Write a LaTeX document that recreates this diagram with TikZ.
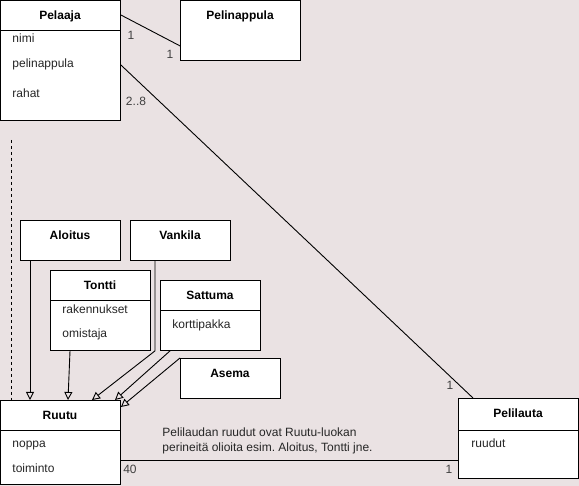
\documentclass[tikz,border=0pt]{standalone}
\usepackage{fontspec}
\setmainfont{Liberation Sans}
\usetikzlibrary{arrows.meta}
\definecolor{canvas}{RGB}{234,226,227}
\frenchspacing

\begin{document}
\begin{tikzpicture}[x=1pt, y=-1pt, line width=0.9pt,
  every node/.style={font=\fontsize{12}{15}\selectfont, inner sep=0pt},
  classbox/.style={draw, fill=white, anchor=north west},
  title/.style={font=\fontsize{12}{15}\selectfont\bfseries, anchor=base},
  attr/.style={anchor=base west, text=black!85},
  mult/.style={text=black!75},
  inherit/.style={-{Triangle[open, length=8pt, width=8pt]}}]
\fill[canvas] (0,0) rectangle (579,486);
\useasboundingbox (0,0) rectangle (579,486);
% Player and piece
\node[classbox, minimum width=120pt, minimum height=120pt] (pelaaja) at (0,0) {};
\draw ([yshift=-30pt]pelaaja.north west) -- ([yshift=-30pt]pelaaja.north east);
\node[title] (pelaajaT) at (60,19.5) {Pelaaja};
\node[attr] (nimi) at (12,43) {nimi};
\node[attr] (pelinappulaA) at (12,68) {pelinappula};
\node[attr] (rahat) at (12,98) {rahat};
\node[classbox, minimum width=120pt, minimum height=60pt] (pelinappula) at (180,0) {};
\node[title] (pelinappulaT) at (240,20) {Pelinappula};
% Square types
\node[classbox, minimum width=100pt, minimum height=40pt] (aloitus) at (20,220) {};
\node[title] (aloitusT) at (70,239.5) {Aloitus};
\node[classbox, minimum width=100pt, minimum height=40pt] (vankila) at (130,220) {};
\node[title] (vankilaT) at (180,239.5) {Vankila};
\node[classbox, minimum width=100pt, minimum height=80pt] (tontti) at (50,270) {};
\draw ([yshift=-30pt]tontti.north west) -- ([yshift=-30pt]tontti.north east);
\node[title] (tonttiT) at (100,289.5) {Tontti};
\node[attr] (rakennukset) at (62,314) {rakennukset};
\node[attr] (omistaja) at (62,338) {omistaja};
\node[classbox, minimum width=100pt, minimum height=70pt] (sattuma) at (160,280) {};
\draw ([yshift=-30pt]sattuma.north west) -- ([yshift=-30pt]sattuma.north east);
\node[title] (sattumaT) at (210,299.5) {Sattuma};
\node[attr] (korttipakka) at (172,329) {korttipakka};
\node[classbox, minimum width=100pt, minimum height=40pt] (asema) at (180,358) {};
\node[title] (asemaT) at (230,377.5) {Asema};
% Square and board
\node[classbox, minimum width=120pt, minimum height=84pt] (ruutu) at (0,400) {};
\draw ([yshift=-30pt]ruutu.north west) -- ([yshift=-30pt]ruutu.north east);
\node[title] (ruutuT) at (60,419.5) {Ruutu};
\node[attr] (noppa) at (12,448) {noppa};
\node[attr] (toiminto) at (12,473) {toiminto};
\node[classbox, minimum width=120pt, minimum height=80pt] (pelilauta) at (458,398) {};
\draw ([yshift=-32pt]pelilauta.north west) -- ([yshift=-32pt]pelilauta.north east);
\node[title] (pelilautaT) at (518,417.5) {Pelilauta};
\node[attr] (ruudut) at (471,448) {ruudut};
% Associations
\draw ([yshift=-15pt]pelaaja.north east) -- ([yshift=15pt]pelinappula.south west);
\draw ([yshift=-65pt]pelaaja.north east) -- ([xshift=15pt]pelilauta.north west);
\draw ([yshift=-60pt]ruutu.north east) -- ([yshift=-62pt]pelilauta.north west);
\node[mult] (m1a) at (131,35) {1};
\node[mult] (m1b) at (170,54) {1};
\node[mult] (m28) at (136,101) {2..8};
\node[mult] (m1c) at (450,385) {1};
\node[mult] (m40) at (130,469) {40};
\node[mult] (m1d) at (449,469) {1};
% Inheritance
\draw[inherit] ([xshift=10pt]aloitus.south west) -- ([xshift=30pt]ruutu.north west);
\draw[inherit] ([xshift=20pt]tontti.south west) -- ([xshift=68pt]ruutu.north west);
\draw[inherit] ([xshift=25pt]vankila.south west) -- ++(0,90) -- ([xshift=92pt]ruutu.north west);
\draw[inherit] ([xshift=10pt]sattuma.south west) -- ([xshift=115pt]ruutu.north west);
\draw[inherit] (asema.north west) -- ([yshift=-7pt]ruutu.north east);
\coordinate (dashtop) at (11,140);
\draw[dash pattern=on 3pt off 3pt] (dashtop) -- (dashtop |- ruutu.north);
% Note
\node[anchor=north west, align=left, text=black!85] (huomio) at (162,427) {Pelilaudan ruudut ovat Ruutu-luokan\\perineitä olioita esim. Aloitus, Tontti jne.};
\end{tikzpicture}
\end{document}
